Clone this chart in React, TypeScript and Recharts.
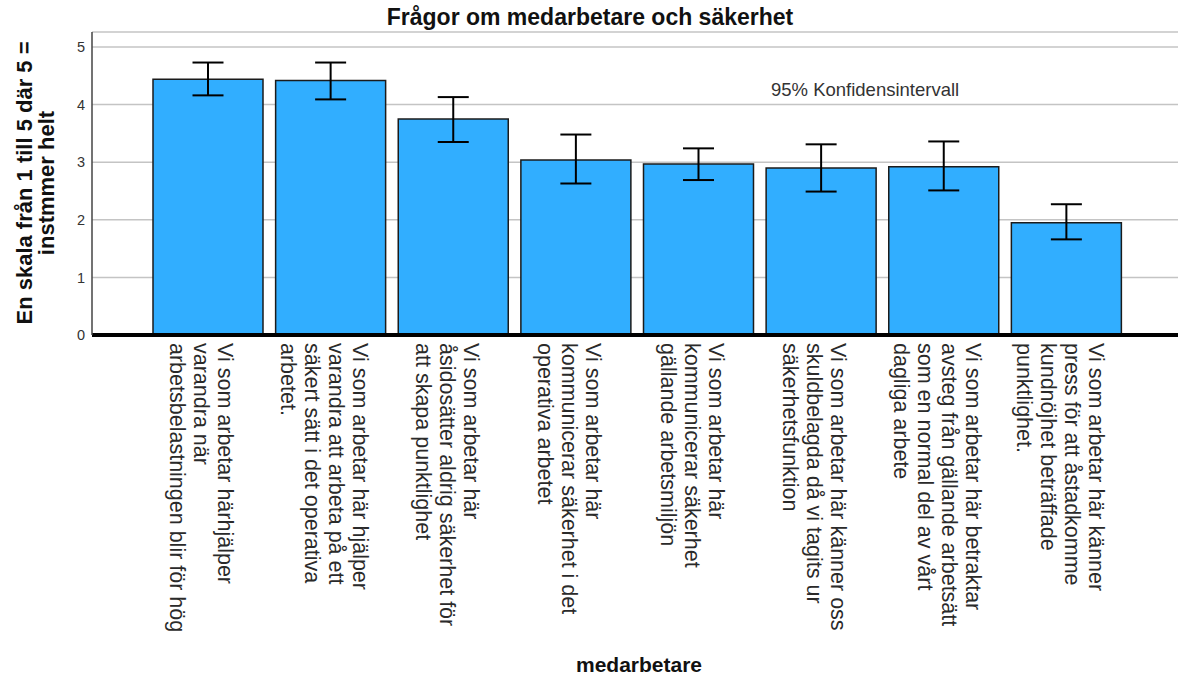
import { Bar, BarChart, CartesianGrid, ErrorBar, XAxis, YAxis } from 'recharts';

// survey items (line breaks as in the original axis labels)
const categories = [
  'Vi som arbetar härhjälper\nvarandra när\narbetsbelastningen blir för hög',
  'Vi som arbetar här hjälper\nvarandra att arbeta på ett\nsäkert sätt i det operativa\narbetet.',
  'Vi som arbetar här\nåsidosätter aldrig säkerhet för\natt skapa punktlighet',
  'Vi som arbetar här\nkommunicerar säkerhet i det\noperativa arbetet',
  'Vi som arbetar här\nkommunicerar säkerhet\ngällande arbetsmiljön',
  'Vi som arbetar här känner oss\nskuldbelagda då vi tagits ur\nsäkerhetsfunktion',
  'Vi som arbetar här betraktar\navsteg från gällande arbetsätt\nsom en normal del av vårt\ndagliga arbete',
  'Vi som arbetar här känner\npress för att åstadkomme\nkundnöjhet beträffade\npunktlighet.',
];

const means = [4.44, 4.42, 3.75, 3.04, 2.97, 2.9, 2.92, 1.95];
const ciLow = [4.16, 4.09, 3.35, 2.63, 2.69, 2.49, 2.51, 1.66];
const ciHigh = [4.73, 4.73, 4.13, 3.48, 3.24, 3.31, 3.36, 2.27];

const yTicks = [0, 1, 2, 3, 4, 5];

const chartData = categories.map((name, i) => ({
  name,
  mean: means[i],
  ci: [means[i] - ciLow[i], ciHigh[i] - means[i]],
}));

const FONT = 'Liberation Sans, Arial, sans-serif';

function CategoryTick(props: any) {
  const { x, y, payload } = props;
  const lines = String(payload.value).split('\n');
  const first = 14 - (lines.length - 1) * 12;
  return (
    <g transform={`translate(${x},${y}) rotate(90)`}>
      <text x={0} y={first} fill="#2a2a2a" fontSize={21.5} fontFamily={FONT}>
        {lines.map((ln, i) => (
          <tspan key={i} x={0} dy={i === 0 ? 0 : 24}>
            {ln}
          </tspan>
        ))}
      </text>
    </g>
  );
}

export default function App() {
  return (
    <div style={{ position: 'absolute', left: 0, top: 0, width: 1178, height: 676, background: '#fff' }}>
      <BarChart
        width={1178}
        height={676}
        data={chartData}
        margin={{ top: 32, right: 0, bottom: 0, left: 0 }}
        barSize={110}
      >
        <CartesianGrid vertical={false} stroke="#c4c4c4" strokeWidth={1.5} />
        <XAxis
          dataKey="name"
          height={341}
          padding={{ left: 55, right: 50 }}
          axisLine={{ stroke: '#000', strokeWidth: 4 }}
          tickLine={false}
          tickSize={0}
          tickMargin={8}
          interval={0}
          tick={<CategoryTick />}
          label={{
            value: 'medarbetare',
            position: 'insideBottom',
            offset: 4,
            dx: 4,
            fill: '#111',
            fontSize: 21,
            fontWeight: 'bold',
            fontFamily: FONT,
          }}
        />
        <YAxis
          width={92}
          domain={[0, 5.26]}
          ticks={yTicks}
          allowDataOverflow
          axisLine={{ stroke: '#444', strokeWidth: 1.5 }}
          tickLine={false}
          tickSize={0}
          tickMargin={7}
          tick={{ fill: '#333', fontSize: 14.5, fontFamily: FONT }}
        />
        <Bar dataKey="mean" fill="#31aeff" stroke="#1b1b1b" strokeWidth={1.5} isAnimationActive={false}>
          <ErrorBar dataKey="ci" width={15.5} stroke="#000" strokeWidth={2} isAnimationActive={false} />
        </Bar>
      </BarChart>
      <svg
        width={1178}
        height={676}
        style={{ position: 'absolute', left: 0, top: 0, pointerEvents: 'none' }}
      >
        <text x={590} y={25} textAnchor="middle" fontSize={23} fontWeight="bold" fontFamily={FONT} fill="#111">
          Frågor om medarbetare och säkerhet
        </text>
        <text transform="translate(32,183) rotate(-90)" textAnchor="middle" fontSize={22} fontWeight="bold" fontFamily={FONT} fill="#111">
          <tspan x={0} dy={0}>En skala från 1 till 5 där 5 =</tspan>
          <tspan x={0} dy={21.5}>instmmer helt</tspan>
        </text>
        <text x={771} y={96} fontSize={18.5} fontFamily={FONT} fill="#333">
          95% Konfidensintervall
        </text>
      </svg>
    </div>
  );
}
